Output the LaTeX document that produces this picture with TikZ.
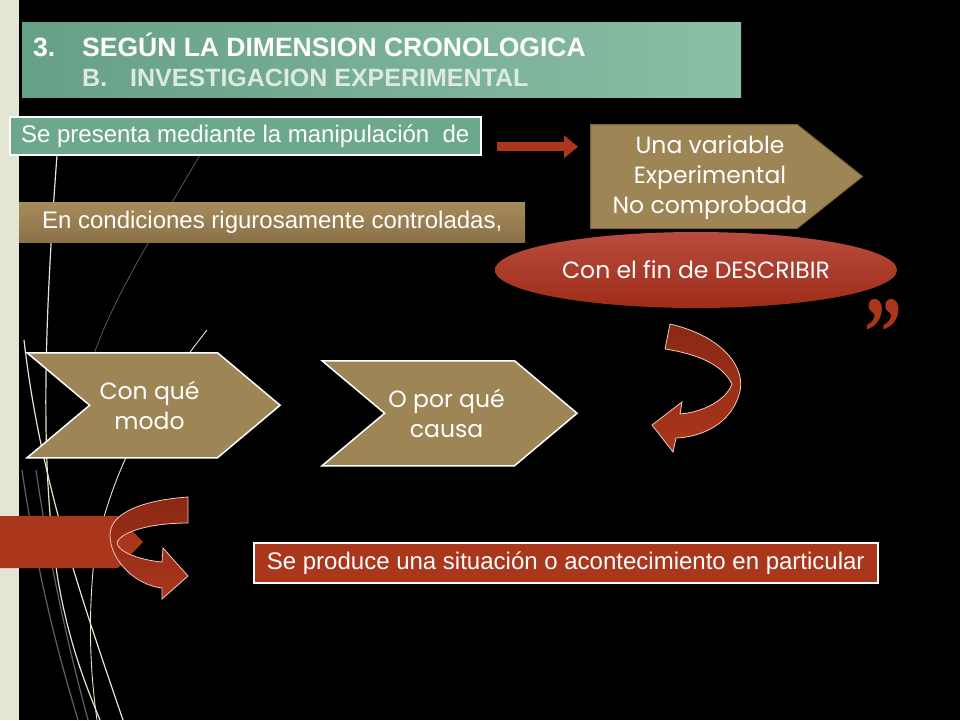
\documentclass[tikz,border=0pt]{standalone}
\usepackage{fontspec}
\setmainfont{Liberation Sans}
\newfontfamily\gothic{Poppins}
\newfontfamily\serifb{Liberation Serif}
\usetikzlibrary{positioning,shapes.geometric,shapes.symbols,arrows.meta}

\definecolor{stripe}{HTML}{E2E6D2}
\definecolor{tealA}{HTML}{66A086}
\definecolor{tealB}{HTML}{8ABEA5}
\definecolor{tealbox}{HTML}{6DA78C}
\definecolor{tanfill}{HTML}{9E8555}
\definecolor{tanedge}{HTML}{7A6438}
\definecolor{tanlight}{HTML}{A68C5C}
\definecolor{tandark}{HTML}{8A7047}
\definecolor{brick}{HTML}{AA361C}
\definecolor{brickdark}{HTML}{8A2814}
\definecolor{brickpale}{HTML}{F2C8B8}
\definecolor{ovaltop}{HTML}{B84C3E}
\definecolor{ovalbot}{HTML}{9E2C18}
\definecolor{subtitle}{HTML}{DCEADF}

\tikzset{
  titlebar/.style={left color=tealA, right color=tealB, inner sep=0pt},
  headA/.style={text=white, inner sep=0pt, font=\bfseries\fontsize{26.5}{30}\selectfont},
  headB/.style={text=subtitle, inner sep=0pt, font=\bfseries\fontsize{25}{30}\selectfont},
  tealbox/.style={draw=white, line width=1.5pt, fill=tealbox, text=white, inner sep=0pt,
    font=\fontsize{24}{27}\selectfont},
  tanbar/.style={top color=tanlight, bottom color=tandark, text=white, inner sep=0pt,
    font=\fontsize{24}{27}\selectfont},
  redbox/.style={draw=white, line width=1.5pt, fill=brick, text=white, inner sep=0pt,
    font=\fontsize{24}{27}\selectfont},
  tanpent/.style={signal, signal to=east, signal pointer angle=77, draw=tanedge, line width=1pt,
    fill=tanfill, inner sep=0pt},
  gothictext/.style={text=white, align=center, inner sep=0pt, font=\gothic\fontsize{23.5}{30}\selectfont},
  tanchev/.style={signal, signal from=west, signal to=east, signal pointer angle=80, draw=white,
    line width=1.5pt, fill=tanfill, inner sep=0pt},
  redoval/.style={ellipse, top color=ovaltop, bottom color=ovalbot, gothictext},
  quote/.style={text=brick, inner sep=0pt, font=\serifb\bfseries\fontsize{72}{72}\selectfont},
  redarrow/.style={draw=brick, line width=9pt, -{Triangle[length=14pt,width=22pt]}},
  twist/.style={top color=brickdark, bottom color=brick, draw=brickpale, line width=0.8pt},
  wispW/.style={draw=stripe, line width=1.2pt},
  wispG/.style={draw=black!62!white, line width=1.2pt},
}

\begin{document}
\begin{tikzpicture}[x=1pt,y=-1pt]
\useasboundingbox (0,0) rectangle (960,720);
% slide background
\fill[black] (0,0) rectangle (960,720);
\fill[stripe] (0,0) rectangle (19,720);

% wisps on the left edge
\draw[wispW] (57,155) .. controls (44,330) and (40,470) .. (58,580) .. controls (70,650) and (90,695) .. (100,720);
\draw[wispW] (24,340) .. controls (40,480) and (82,600) .. (123,720);
\draw[wispW, line width=0.9pt] (207,330) .. controls (160,390) and (112,460) .. (94,560) .. controls (88,620) and (90,670) .. (97,720);
\draw[wispG] (22,470) .. controls (38,580) and (60,660) .. (78,720);
\draw[wispG] (36,470) .. controls (52,580) and (72,660) .. (88,720);
\draw[wispG, line width=0.7pt] (200,155) .. controls (150,240) and (112,300) .. (92,360);

% title
\node[titlebar, minimum width=719, minimum height=75, anchor=north west] (title) at (22,22) {};
\node[headA, anchor=base west] (head) at (33,56) {\makebox[49pt][l]{3.}SEGÚN LA DIMENSION CRONOLOGICA};
\node[headB, anchor=base west] (subhead) at (82,86) {\makebox[48pt][l]{B.}INVESTIGACION EXPERIMENTAL};

% first row
\node[tealbox, minimum width=471, minimum height=38, anchor=north west] (manip) at (9,116) {Se presenta mediante la manipulación \ de};
\node[tanpent, minimum width=272, minimum height=104, anchor=north west] (variable) at (590,124) {};
\node[gothictext] (variabletxt) at (710,178) {Una variable\\Experimental\\No comprobada};
\draw[redarrow, shorten <=15pt, shorten >=12pt] ([yshift=-11pt]manip.east) -- ([yshift=-11pt]manip.east -| variable.west);

\node[tanbar, minimum width=506, minimum height=40, anchor=north west] (cond) at (19,202) {En condiciones rigurosamente controladas,};
\node[redoval, minimum width=402, minimum height=76] (fin) at (696,270) {Con el fin de DESCRIBIR};
\node[quote] (cierre) at (883,333) {\scalebox{1.05}[1.4]{”}};

% turning arrow, right
\shade[twist] (670,324) .. controls (722,336) and (748,368) .. (739,395)
  .. controls (730,424) and (702,437) .. (676,438) -- (673,452) -- (652,425) -- (682,402) -- (680,414)
  .. controls (704,412) and (726,400) .. (732,384) .. controls (722,364) and (697,354) .. (665,349) -- cycle;

% chevrons
\node[tanchev, minimum width=253, minimum height=105, anchor=north west] (modo) at (25,352) {};
\node[gothictext] (modotxt) at ([xshift=-4pt]modo.center) {Con qué\\modo};
\node[tanchev, minimum width=255, minimum height=105, anchor=north west] (causa) at (320,360) {};
\node[gothictext] (causatxt) at ([xshift=-3pt]causa.center) {O por qué\\causa};

% bottom left block and turning arrow
\fill[brick] (0,516) -- (118,516) -- (143,542) -- (118,568) -- (0,568) -- cycle;
\shade[twist] (188,497) .. controls (145,500) and (110,512) .. (110,535)
  .. controls (110,560) and (135,585) .. (162,588) -- (162,599) -- (188,576) -- (163,548) -- (162,562)
  .. controls (140,560) and (118,552) .. (117,543) .. controls (120,532) and (150,523) .. (188,523) -- cycle;

\node[redbox, minimum width=624, minimum height=40, anchor=north west] (situacion) at (253,542) {Se produce una situación o acontecimiento en particular};
\end{tikzpicture}
\end{document}
